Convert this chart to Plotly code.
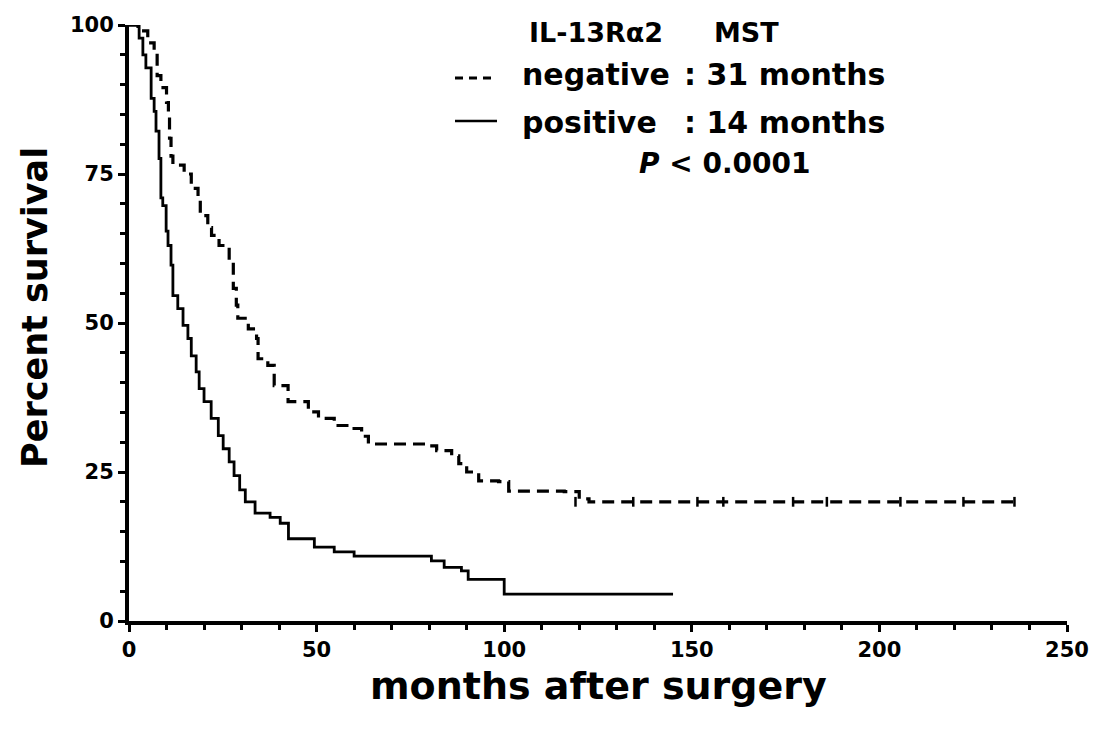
import plotly.graph_objects as go

# ---------------- data ----------------
neg_months = [0, 2.4, 5, 6.7, 7.5, 8.5, 10, 10.5, 10.8, 11.2, 11.7, 14.7, 16.6, 18.4, 19,
              21, 22, 24, 26.7, 27.8, 28.6, 29, 31.8, 34, 34.4, 37, 38.7, 42.4, 47.8,
              50.5, 54.7, 58.5, 62, 63.8, 79.8, 82, 86, 87.9, 90, 93.2, 98.5, 101.2,
              116, 120, 122.6, 236]
neg_surv = [100, 99, 97, 95.5, 91.5, 89.5, 87, 84.5, 81, 78, 76.5, 75, 72.6, 70.6, 68,
            66, 64.7, 63, 60.3, 55.8, 53, 50.8, 49, 47.4, 44, 42.9, 39.5, 36.8, 35.1,
            34, 32.8, 32.3, 31, 29.7, 29.4, 28.6, 27.7, 26.4, 25, 23.5, 23.4, 21.8,
            21.7, 20.5, 20, 20]

neg_censor_months = [119, 134.4, 151.5, 158.4, 177, 186, 205.6, 222.4, 236]
neg_censor_surv = [20, 20, 20, 20, 20, 20, 20, 20, 20]

pos_months = [0, 1.3, 2.7, 3.7, 4.5, 5.9, 6.7, 7.2, 8, 8.5, 9, 9.9, 10.4, 11.2, 11.7,
              13, 14.4, 15.7, 16.6, 17.9, 18.7, 20, 21.9, 23.8, 25.1, 26.7, 28, 29.5,
              31, 33.6, 37.6, 40.3, 42.5, 49.4, 54.7, 60, 78, 80.6, 84, 88.6, 90.4,
              100, 145]
pos_surv = [100, 100, 97.8, 95, 92.8, 87.7, 85.5, 82.2, 77.6, 71, 69.7, 65.4, 63, 59.7, 54.6,
            52.4, 49.6, 47.4, 44.5, 41.8, 39, 36.8, 34, 31.1, 28.9, 26.7, 24.4, 22,
            20, 18.1, 17.4, 16.4, 13.8, 12.4, 11.6, 10.9, 10.9, 10.1, 9, 8.4, 7,
            4.5, 4.5]

x_ticks = [0, 50, 100, 150, 200, 250]
y_ticks = [0, 25, 50, 75, 100]

FONT = "DejaVu Sans"

fig = go.Figure()
fig.add_trace(go.Scatter(x=neg_months, y=neg_surv, mode="lines", line_shape="hv",
                         line=dict(color="black", width=3.2, dash="12px,7px"),
                         cliponaxis=False, showlegend=False))
fig.add_trace(go.Scatter(x=neg_censor_months, y=neg_censor_surv, mode="markers",
                         marker=dict(symbol="line-ns-open", size=7, color="black",
                                     line=dict(color="black", width=2.5)),
                         cliponaxis=False, showlegend=False))
fig.add_trace(go.Scatter(x=pos_months, y=pos_surv, mode="lines", line_shape="hv",
                         line=dict(color="black", width=2.8),
                         cliponaxis=False, showlegend=False))

# plot area: x 129..1067 px, y 25..621 px
L, R, T, B = 129, 1067, 25, 621
W, H = R - L, B - T
def px(x):
    return (x - L) / W
def py(y):
    return (B - y) / H

axis_common = dict(showgrid=False, zeroline=False, showline=True, linecolor="black",
                   linewidth=4, ticks="outside", ticklen=7, tickwidth=3,
                   tickcolor="black", mirror=False,
                   tickfont=dict(family=FONT, size=21, color="black", weight="bold"))
fig.update_xaxes(range=[0, 250], tickvals=x_ticks, ticktext=[str(v) for v in x_ticks],
                 minor=dict(dtick=10, ticks="outside", ticklen=5, tickwidth=3,
                            tickcolor="black", showgrid=False),
                 **axis_common)
fig.update_yaxes(range=[0, 100], tickvals=y_ticks, ticktext=[str(v) for v in y_ticks],
                 minor=dict(dtick=5, ticks="outside", ticklen=5, tickwidth=3,
                            tickcolor="black", showgrid=False),
                 **axis_common)

annotations = [
    dict(text="<b>Percent survival</b>", x=px(35), y=py(308), textangle=-90,
         font=dict(size=35)),
    dict(text="<b>months after surgery</b>", x=px(598), y=py(686), font=dict(size=38)),
    dict(text="<b>IL-13Rα2</b>", x=px(527), y=py(33), xanchor="left", font=dict(size=27)),
    dict(text="<b>MST</b>", x=px(712), y=py(33), xanchor="left", font=dict(size=27)),
    dict(text="<b>negative</b>", x=px(520), y=py(74), xanchor="left", font=dict(size=30)),
    dict(text="<b>: 31 months</b>", x=px(682), y=py(74), xanchor="left", font=dict(size=30)),
    dict(text="<b>positive</b>", x=px(520), y=py(122), xanchor="left", font=dict(size=30)),
    dict(text="<b>: 14 months</b>", x=px(682), y=py(122), xanchor="left", font=dict(size=30)),
    dict(text="<b><i>P</i> &lt; 0.0001</b>", x=px(637), y=py(163), xanchor="left",
         font=dict(size=28)),
]
for a in annotations:
    a.setdefault("xanchor", "center")
    a["yanchor"] = "middle"
    a["xref"] = "paper"
    a["yref"] = "paper"
    a["showarrow"] = False
    a["font"] = dict(family=FONT, color="black", size=a["font"]["size"])
fig.update_layout(annotations=annotations)

# legend line samples
fig.add_shape(type="line", xref="paper", yref="paper", x0=px(455), x1=px(497),
              y0=py(78), y1=py(78), line=dict(color="black", width=3, dash="8px,6px"))
fig.add_shape(type="line", xref="paper", yref="paper", x0=px(455), x1=px(497),
              y0=py(121), y1=py(121), line=dict(color="black", width=2.5))

fig.update_layout(width=1098, height=729, paper_bgcolor="white", plot_bgcolor="white",
                  margin=dict(l=L, r=1098 - R, t=T, b=729 - B, autoexpand=False),
                  font=dict(family=FONT, color="black"), showlegend=False)

fig.write_html("out.html")
